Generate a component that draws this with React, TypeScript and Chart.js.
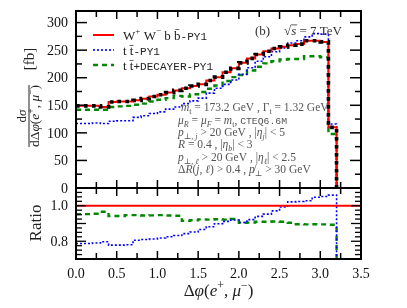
import React, { useEffect, useRef } from "react";
import { Chart, registerables } from "chart.js";
Chart.register(...registerables);

// ---- data ----
const binEdges = [0, 0.1, 0.2, 0.3, 0.4, 0.5, 0.6, 0.7, 0.8, 0.9, 1.0, 1.1, 1.2, 1.3, 1.4, 1.5, 1.6, 1.7, 1.8, 1.9, 2.0, 2.1, 2.2, 2.3, 2.4, 2.5, 2.6, 2.7, 2.8, 2.9, 3.0, 3.1, 3.2];
const wwbbValues = [149, 149, 149, 147, 156, 157, 157, 159, 162, 166, 169, 173, 177, 181, 185, 188, 195, 201, 210, 217, 227, 235, 242, 248, 253, 256, 259, 261, 267, 267, 265, 110];
const ttValues = [117, 117, 118, 117, 121, 122, 122, 128, 131, 135, 138, 143, 147, 153, 158, 163, 172, 181, 188, 196, 206, 218, 230, 238, 247, 254, 263, 267, 274, 280, 279, 116];
const ttDecValues = [142, 142, 142, 142, 147, 148, 149, 151, 153, 157, 160, 163, 167, 166, 170, 174, 180, 186, 194, 201, 205, 213, 220, 226, 230, 233, 234, 234, 239, 239, 237, 98];
const ratioTT = [0.787, 0.787, 0.79, 0.797, 0.778, 0.778, 0.78, 0.806, 0.81, 0.813, 0.818, 0.825, 0.832, 0.843, 0.852, 0.866, 0.882, 0.899, 0.912, 0.92, 0.906, 0.922, 0.94, 0.953, 0.971, 0.993, 1.022, 1.024, 1.028, 1.048, 1.052, 1.06];
const ratioTTDec = [0.953, 0.953, 0.955, 0.966, 0.942, 0.942, 0.947, 0.947, 0.945, 0.946, 0.947, 0.945, 0.944, 0.915, 0.918, 0.923, 0.922, 0.924, 0.922, 0.925, 0.904, 0.905, 0.91, 0.91, 0.911, 0.91, 0.904, 0.896, 0.895, 0.896, 0.895, 0.893];
const ratioRefX = [0, 3.5];
const ratioRefY = [1, 1];

const xTickValues = [0, 0.5, 1.0, 1.5, 2.0, 2.5, 3.0, 3.5];
const xTickLabels = ["0.0", "0.5", "1.0", "1.5", "2.0", "2.5", "3.0", "3.5"];
const yTickValues = [0, 50, 100, 150, 200, 250, 300];
const yTickLabels = ["0", "50", "100", "150", "200", "250", "300"];
const ratioTickValues = [0.8, 1.0];
const ratioTickLabels = ["0.8", "1.0"];

const SERIF = "'Liberation Serif', 'DejaVu Serif', serif";
const MONO = "'Liberation Mono', 'DejaVu Sans Mono', monospace";

type Seg = [string, string?];

function drawRich(ctx: CanvasRenderingContext2D, segs: Seg[], x: number, y: number, size: number, align: string, color: string) {
  const fontFor = (f: string) => {
    let s = f.includes("b") || f.includes("p") ? size * 0.7 : size;
    if (f.includes("m")) s = s * 0.85;
    const fam = f.includes("m") ? MONO : SERIF;
    return `${f.includes("i") ? "italic " : ""}${s}px ${fam}`;
  };
  ctx.save();
  ctx.textAlign = "left";
  ctx.textBaseline = "alphabetic";
  ctx.fillStyle = color;
  ctx.strokeStyle = color;
  let total = 0;
  const widths: number[] = [];
  for (const [t, f = ""] of segs) {
    ctx.font = fontFor(f);
    const w = ctx.measureText(t).width;
    widths.push(w);
    total += w;
  }
  let cx = align === "center" ? x - total / 2 : align === "right" ? x - total : x;
  segs.forEach(([t, f = ""], i) => {
    ctx.font = fontFor(f);
    const dy = f.includes("b") ? size * 0.25 : f.includes("p") ? -size * 0.4 : 0;
    ctx.fillText(t, cx, y + dy);
    if (f.includes("o")) {
      ctx.lineWidth = 0.8;
      ctx.beginPath();
      ctx.moveTo(cx, y - size * 0.78);
      ctx.lineTo(cx + widths[i] + 1, y - size * 0.78);
      ctx.stroke();
    }
    cx += widths[i];
  });
  ctx.restore();
  return total;
}

function stepPoints(vals: number[]) {
  // point i sits at the left edge of bin i; stepped "before" in Chart.js draws
  // horizontally at the previous value up to the next point, then vertically
  const pts = vals.map((v, i) => ({ x: binEdges[i], y: v }));
  pts.push({ x: binEdges[binEdges.length - 1], y: -1 });
  return pts;
}

function line(ctx: CanvasRenderingContext2D, x1: number, y1: number, x2: number, y2: number) {
  ctx.beginPath();
  ctx.moveTo(x1, y1);
  ctx.lineTo(x2, y2);
  ctx.stroke();
}

const xTickPos: number[] = [];
for (let i = 0; i <= 14; i++) xTickPos.push(i * 0.25);

const mainPlugin = {
  id: "mainDeco",
  afterDraw(chart: any) {
    const { ctx, chartArea: a, scales } = chart;
    const xs = scales.x, ys = scales.y;
    ctx.save();
    ctx.strokeStyle = "#000";
    ctx.lineWidth = 1.5;
    for (let v = 0; v <= 325; v += 25) {
      const py = ys.getPixelForValue(v);
      if (py < a.top - 0.5) continue;
      const len = v % 50 === 0 ? 11 : 6;
      line(ctx, a.left, py, a.left + len, py);
      line(ctx, a.right, py, a.right - len, py);
    }
    for (const v of xTickPos) {
      const px = xs.getPixelForValue(v);
      const len = Math.abs(v * 2 - Math.round(v * 2)) < 1e-6 ? 8 : 6;
      line(ctx, px, a.top, px, a.top + len);
      line(ctx, px, a.bottom, px, a.bottom - len);
    }
    ctx.lineWidth = 2;
    ctx.strokeRect(a.left, a.top, a.right - a.left, a.bottom - a.top);
    ctx.fillStyle = "#111";
    ctx.font = `14px ${SERIF}`;
    ctx.textAlign = "right";
    ctx.textBaseline = "middle";
    yTickValues.forEach((v, i) => ctx.fillText(yTickLabels[i], a.left - 8, ys.getPixelForValue(v) + 1));
    // legend
    const lx1 = a.left + 17, lx2 = a.left + 38, tx = a.left + 47;
    const ly = [35, 50, 65];
    ctx.lineWidth = 2;
    ctx.strokeStyle = "#ff0000";
    ctx.setLineDash([]);
    line(ctx, lx1, ly[0], lx2, ly[0]);
    ctx.strokeStyle = "#0000ff";
    ctx.lineWidth = 1.6;
    ctx.setLineDash([2, 2]);
    line(ctx, lx1, ly[1], lx2, ly[1]);
    ctx.strokeStyle = "#008800";
    ctx.lineWidth = 2.4;
    ctx.setLineDash([5, 4]);
    line(ctx, lx1, ly[2], lx2, ly[2]);
    ctx.setLineDash([]);
    const lc = "#222";
    drawRich(ctx, [["W"], ["+", "p"], [" W"], ["−", "p"], [" b b\u0304"], ["-PY1", "m"]], tx, ly[0] + 4.5, 13, "left", lc);
    drawRich(ctx, [["t t\u0304"], ["-PY1", "m"]], tx, ly[1] + 4.5, 13, "left", lc);
    drawRich(ctx, [["t t\u0304"], ["+DECAYER-PY1", "m"]], tx, ly[2] + 4.5, 13, "left", lc);
    drawRich(ctx, [["(b)"]], 255, 35, 13, "left", "#333");
    drawRich(ctx, [["√"], ["s", "io"], [" = 7 TeV"]], 284, 35, 13, "left", "#333");
    // annotations
    const ac = "#555";
    const fs = 11.5;
    const ax = 178;
    drawRich(ctx, [[" m", "i"], ["t", "b"], [" = 173.2 GeV , Γ"], ["t", "b"], [" = 1.32 GeV"]], ax, 111, fs, "left", ac);
    drawRich(ctx, [["μ", "i"], ["R", "ib"], [" = "], ["μ", "i"], ["F", "ib"], [" = "], ["m", "i"], ["t", "b"], [", "], ["CTEQ6.6M", "m"]], ax, 124, fs, "left", ac);
    drawRich(ctx, [["p", "i"], ["⊥, j", "ib"], [" > 20 GeV , |"], ["η", "i"], ["j", "ib"], ["| < 5"]], ax, 136, fs, "left", ac);
    drawRich(ctx, [["R", "i"], [" = 0.4 , |"], ["η", "i"], ["b", "ib"], ["| < 3"]], ax, 148, fs, "left", ac);
    drawRich(ctx, [["p", "i"], ["⊥, ℓ", "ib"], [" > 20 GeV , |"], ["η", "i"], ["ℓ", "ib"], ["| < 2.5"]], ax, 161, fs, "left", ac);
    drawRich(ctx, [["Δ"], ["R", "i"], ["("], ["j", "i"], [", "], ["ℓ", "i"], [") > 0.4 , "], ["p\u0338", "i"], ["⊥", "b"], [" > 30 GeV"]], ax, 173, fs, "left", ac);
    // y title
    ctx.save();
    ctx.translate(29, 116);
    ctx.rotate(-Math.PI / 2);
    drawRich(ctx, [["d"], ["σ", "i"]], 0, -3, 13, "center", "#222");
    const dw = drawRich(ctx, [["dΔ"], ["φ", "i"], ["("], ["e", "i"], ["+", "p"], [", "], ["μ", "i"], ["−", "p"], [")"]], 0, 10, 13.5, "center", "#222");
    ctx.fillStyle = "#222";
    ctx.fillRect(-dw / 2, -0.5, dw, 1);
    drawRich(ctx, [["[fb]"]], 57, 5, 15, "center", "#222");
    ctx.restore();
    ctx.restore();
  },
};

const ratioPlugin = {
  id: "ratioDeco",
  afterDraw(chart: any) {
    const { ctx, chartArea: a, scales } = chart;
    const xs = scales.x, ys = scales.y;
    ctx.save();
    ctx.strokeStyle = "#000";
    ctx.lineWidth = 1.3;
    for (let k = 28; k <= 44; k++) {
      const v = k * 0.025;
      const py = ys.getPixelForValue(v);
      if (py < a.top - 0.5 || py > a.bottom + 0.5) continue;
      const major = k % 4 === 0;
      const len = major ? 10 : 6;
      line(ctx, a.left, py, a.left + len, py);
      line(ctx, a.right, py, a.right - len, py);
    }
    ctx.lineWidth = 1.5;
    for (const v of xTickPos) {
      const px = xs.getPixelForValue(v);
      const len = Math.abs(v * 2 - Math.round(v * 2)) < 1e-6 ? 8 : 6;
      line(ctx, px, a.top, px, a.top + len);
      line(ctx, px, a.bottom, px, a.bottom - len);
    }
    ctx.lineWidth = 2;
    ctx.strokeRect(a.left, a.top, a.right - a.left, a.bottom - a.top);
    ctx.fillStyle = "#111";
    ctx.font = `14px ${SERIF}`;
    ctx.textAlign = "right";
    ctx.textBaseline = "middle";
    ratioTickValues.forEach((v, i) => ctx.fillText(ratioTickLabels[i], a.left - 8, ys.getPixelForValue(v) + 1));
    ctx.textAlign = "center";
    xTickValues.forEach((v, i) => ctx.fillText(xTickLabels[i], xs.getPixelForValue(v), a.bottom + 15));
    drawRich(ctx, [["Δ"], ["φ", "i"], ["("], ["e", "i"], ["+", "p"], [", "], ["μ", "i"], ["−", "p"], [")"]], (a.left + a.right) / 2, 296, 17, "center", "#222");
    ctx.save();
    ctx.translate(37, 223);
    ctx.rotate(-Math.PI / 2);
    ctx.font = `17px ${SERIF}`;
    ctx.fillStyle = "#222";
    ctx.textAlign = "center";
    ctx.textBaseline = "middle";
    ctx.fillText("Ratio", 0, 0);
    ctx.restore();
    ctx.restore();
  },
};

const commonOpts = (ymin: number, ymax: number, padding: any) => ({
  responsive: false,
  animation: false as const,
  devicePixelRatio: 1,
  events: [] as any[],
  layout: { padding },
  plugins: { legend: { display: false }, tooltip: { enabled: false } },
  elements: { point: { radius: 0 } },
  scales: {
    x: { type: "linear" as const, min: 0, max: 3.5, display: false },
    y: { type: "linear" as const, min: ymin, max: ymax, display: false },
  },
});

export default function App() {
  const refA = useRef<HTMLCanvasElement>(null);
  const refB = useRef<HTMLCanvasElement>(null);
  useEffect(() => {
    const chartA = new Chart(refA.current!, {
      type: "line",
      data: {
        datasets: [
          { data: stepPoints(wwbbValues), stepped: "before", borderColor: "#000", borderWidth: 3.6, borderDash: [3.6, 4.4], fill: false },
          { data: stepPoints(wwbbValues), stepped: "before", borderColor: "#ff0000", borderWidth: 2, fill: false },
          { data: stepPoints(ttValues), stepped: "before", borderColor: "#0000ff", borderWidth: 1.6, borderDash: [2, 2], fill: false },
          { data: stepPoints(ttDecValues), stepped: "before", borderColor: "#008800", borderWidth: 2.4, borderDash: [5, 4], fill: false },
        ],
      },
      options: commonOpts(0, 321, { left: 76, top: 11, right: 46, bottom: 120 }) as any,
      plugins: [mainPlugin],
    });
    const chartB = new Chart(refB.current!, {
      type: "line",
      data: {
        datasets: [
          { data: ratioRefX.map((x, i) => ({ x, y: ratioRefY[i] })), borderColor: "#ff0000", borderWidth: 2, fill: false },
          { data: stepPoints(ratioTT), stepped: "before", borderColor: "#0000ff", borderWidth: 1.6, borderDash: [2, 2], fill: false },
          { data: stepPoints(ratioTTDec), stepped: "before", borderColor: "#008800", borderWidth: 2.4, borderDash: [5, 4], fill: false },
        ],
      },
      options: commonOpts(0.7, 1.1, { left: 76, top: 188, right: 46, bottom: 49 }) as any,
      plugins: [ratioPlugin],
    });
    return () => {
      chartA.destroy();
      chartB.destroy();
    };
  }, []);
  return (
    <div style={{ position: "fixed", left: 0, top: 0, width: 407, height: 308, background: "#fff" }}>
      <canvas ref={refA} width={407} height={308} style={{ position: "absolute", left: 0, top: 0 }} />
      <canvas ref={refB} width={407} height={308} style={{ position: "absolute", left: 0, top: 0 }} />
    </div>
  );
}
